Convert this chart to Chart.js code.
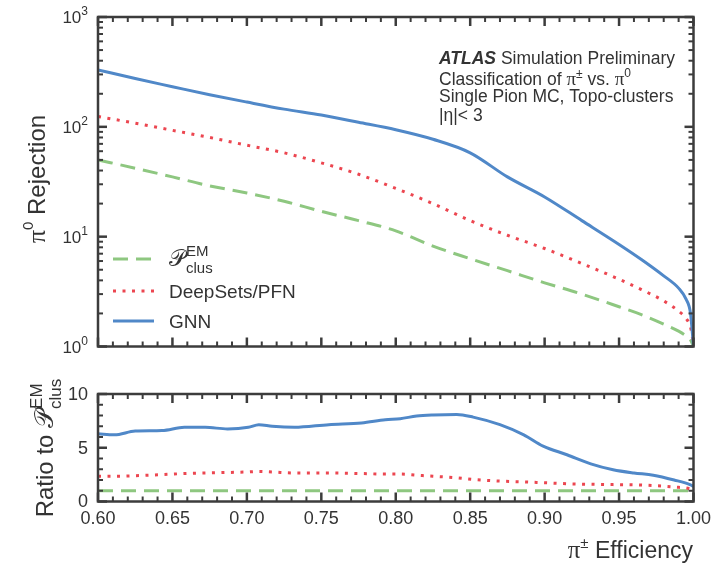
<!DOCTYPE html>
<html>
<head>
<meta charset="utf-8">
<script src="https://cdn.jsdelivr.net/npm/chart.js@4/dist/chart.umd.min.js"></script>
<style>
  body { margin: 0; background: #fff; }
  #wrap { position: relative; width: 726px; height: 565px; }
  #topChart { position: absolute; left: 0; top: 0; }
  #ratioChart { position: absolute; left: 0; top: 370px; }
</style>
</head>
<body>
<div id="wrap">
  <canvas id="topChart" width="726" height="370" style="width:726px;height:370px"></canvas>
  <canvas id="ratioChart" width="726" height="195" style="width:726px;height:195px"></canvas>
</div>
<script>
// pi+- efficiency points for the rejection curves
const effTop = [0.60, 0.625, 0.65, 0.675, 0.70, 0.725, 0.75, 0.775, 0.80, 0.825, 0.85, 0.875, 0.90, 0.925, 0.95, 0.965, 0.98, 0.99, 0.995, 0.998, 1.00];
const clusRej = [50, 42, 35, 29, 25, 21, 17, 14, 11.3, 8.2, 6.3, 4.9, 3.8, 3.0, 2.3, 1.95, 1.6, 1.38, 1.25, 1.15, 1.0];
const deepSetsRej = [124, 108, 93, 80, 68, 58, 47, 37, 27.5, 20, 14, 10.3, 7.8, 5.7, 4.1, 3.3, 2.6, 2.1, 1.8, 1.5, 1.05];
const gnnRej = [330, 275, 232, 196, 168, 145, 128, 110, 94, 77, 58, 35, 23, 14, 8.5, 6.2, 4.4, 3.4, 2.7, 2.0, 1.0];

// ratio panel
const effRatio = [0.600, 0.611, 0.625, 0.643, 0.658, 0.672, 0.687, 0.701, 0.708, 0.717, 0.732, 0.755, 0.777, 0.793, 0.803, 0.814, 0.825, 0.841, 0.852, 0.870, 0.886, 0.899, 0.915, 0.931, 0.946, 0.960, 0.973, 0.987, 0.998, 1.000];
const gnnRatio = [6.3, 6.2, 6.55, 6.6, 6.9, 6.9, 6.75, 6.9, 7.15, 7.0, 6.9, 7.15, 7.3, 7.6, 7.7, 7.95, 8.05, 8.1, 7.85, 7.15, 6.2, 5.15, 4.35, 3.5, 2.95, 2.65, 2.45, 2.0, 1.55, 1.4];
const deepSetsRatio = [2.35, 2.35, 2.4, 2.5, 2.6, 2.65, 2.7, 2.75, 2.8, 2.75, 2.65, 2.65, 2.6, 2.55, 2.55, 2.45, 2.35, 2.2, 2.05, 1.9, 1.82, 1.75, 1.65, 1.6, 1.57, 1.55, 1.48, 1.35, 1.15, 1.0];
const effFlat = [0.60, 1.00];
const clusRatio = [1, 1];

// axis ticks
const xTicks = ['0.60', '0.65', '0.70', '0.75', '0.80', '0.85', '0.90', '0.95', '1.00'];
const rejDecades = [1, 10, 100, 1000];
const rejExponents = ['0', '1', '2', '3'];
const ratioTicks = [0, 5, 10];

const FONT = "'Liberation Sans', Arial, Helvetica, sans-serif";
const SERIF = "'Liberation Serif', 'DejaVu Serif', serif";
const TEXT = '#333';
const FRAME = '#3c3c3c';
const BLUE = '#5088c8';
const RED = '#ec4650';
const GREEN = '#8ec780';

function pts(xs, ys) {
    return xs.map((x, i) => ({ x: x, y: ys[i] }));
}

function partWidth(ctx, p) {
    ctx.font = p.font;
    if (p.sup !== undefined) {
        return Math.max(ctx.measureText(p.sup).width, ctx.measureText(p.sub || '').width);
    }
    return ctx.measureText(p.text).width;
}

// draws text made of pieces (for super/subscripts)
function drawRich(ctx, parts, x, y, align) {
    const total = parts.reduce((s, p) => s + partWidth(ctx, p), 0);
    let cx = align === 'right' ? x - total : align === 'center' ? x - total / 2 : x;
    ctx.textAlign = 'left';
    ctx.textBaseline = 'alphabetic';
    parts.forEach(p => {
        const w = partWidth(ctx, p);
        ctx.font = p.font;
        if (p.sup !== undefined) {
            ctx.fillText(p.sup, cx, y + p.supDy);
            if (p.sub) ctx.fillText(p.sub, cx, y + p.subDy);
        } else {
            ctx.fillText(p.text, cx, y + (p.dy || 0));
        }
        cx += w;
    });
}

function seg(ctx, x1, y1, x2, y2) {
    ctx.beginPath();
    ctx.moveTo(x1, y1);
    ctx.lineTo(x2, y2);
    ctx.stroke();
}

function drawXTicks(ctx, xs, area) {
    for (let i = 60; i <= 100; i++) {
        const px = xs.getPixelForValue(i / 100);
        const len = i % 5 === 0 ? 9 : 5;
        ctx.lineWidth = i % 5 === 0 ? 2.5 : 2;
        seg(ctx, px, area.bottom, px, area.bottom - len);
        seg(ctx, px, area.top, px, area.top + len);
    }
}

function drawFrame(ctx, area) {
    ctx.strokeStyle = FRAME;
    ctx.lineWidth = 2.5;
    ctx.strokeRect(area.left, area.top, area.right - area.left, area.bottom - area.top);
}

function legendLine(ctx, y, color, dash, label) {
    ctx.save();
    ctx.strokeStyle = color;
    ctx.lineWidth = 3;
    ctx.setLineDash(dash);
    seg(ctx, 113, y, 154, y);
    ctx.restore();
    ctx.fillStyle = TEXT;
    drawRich(ctx, label, 169, y + 7, 'left');
}

const topPlugin = {
    id: 'topDecor',
    afterDraw(chart) {
        const ctx = chart.ctx;
        const area = chart.chartArea;
        const xs = chart.scales.x;
        const ys = chart.scales.y;
        ctx.save();
        drawFrame(ctx, area);
        drawXTicks(ctx, xs, area);
        // log ticks
        rejDecades.forEach((d, i) => {
            const py = ys.getPixelForValue(d);
            ctx.lineWidth = 2.5;
            seg(ctx, area.left, py, area.left + 9, py);
            seg(ctx, area.right, py, area.right - 9, py);
            if (i < rejDecades.length - 1) {
                for (let k = 2; k <= 9; k++) {
                    const pm = ys.getPixelForValue(d * k);
                    ctx.lineWidth = 2;
                    seg(ctx, area.left, pm, area.left + 5, pm);
                    seg(ctx, area.right, pm, area.right - 5, pm);
                }
            }
            ctx.fillStyle = TEXT;
            drawRich(ctx, [
                { text: '10', font: '17px ' + FONT },
                { text: rejExponents[i], font: '12px ' + FONT, dy: -8 }
            ], 88, py + 6, 'right');
        });

        // y title
        ctx.fillStyle = TEXT;
        ctx.save();
        ctx.translate(45, 179);
        ctx.rotate(-Math.PI / 2);
        drawRich(ctx, [
            { text: '\u03c0', font: '26px ' + SERIF },
            { text: '0', font: '15px ' + FONT, dy: -12 },
            { text: ' Rejection', font: '24px ' + FONT }
        ], 0, 0, 'center');
        ctx.restore();

        // legend
        legendLine(ctx, 259, GREEN, [15, 8], [
            { text: '\ud835\udcab', font: '23px ' + FONT },
            { sup: 'EM', sub: 'clus', font: '15px ' + FONT, supDy: -10, subDy: 7 }
        ]);
        legendLine(ctx, 291, RED, [3, 6.5], [{ text: 'DeepSets/PFN', font: '19px ' + FONT }]);
        legendLine(ctx, 321, BLUE, [], [{ text: 'GNN', font: '19px ' + FONT }]);

        // ATLAS label
        const f = '17.5px ' + FONT;
        const fs = '12px ' + FONT;
        drawRich(ctx, [
            { text: 'ATLAS', font: 'italic bold 17.5px ' + FONT },
            { text: ' Simulation Preliminary', font: f }
        ], 439, 64, 'left');
        drawRich(ctx, [
            { text: 'Classification of ', font: f },
            { text: '\u03c0', font: '19px ' + SERIF },
            { text: '\u00b1', font: fs, dy: -7 },
            { text: ' vs. ', font: f },
            { text: '\u03c0', font: '19px ' + SERIF },
            { text: '0', font: fs, dy: -8 }
        ], 439, 85, 'left');
        drawRich(ctx, [{ text: 'Single Pion MC, Topo-clusters', font: f }], 439, 102, 'left');
        drawRich(ctx, [{ text: '|\u03b7|< 3', font: f }], 439, 121, 'left');
        ctx.restore();
    }
};

const ratioPlugin = {
    id: 'ratioDecor',
    afterDraw(chart) {
        const ctx = chart.ctx;
        const area = chart.chartArea;
        const xs = chart.scales.x;
        const ys = chart.scales.y;
        ctx.save();
        drawFrame(ctx, area);
        drawXTicks(ctx, xs, area);
        for (let v = 0; v <= 10; v++) {
            const py = ys.getPixelForValue(v);
            const major = v % 5 === 0;
            ctx.lineWidth = major ? 2.5 : 2;
            const len = major ? 9 : 5;
            seg(ctx, area.left, py, area.left + len, py);
            seg(ctx, area.right, py, area.right - len, py);
        }
        ctx.fillStyle = TEXT;
        ctx.font = '18px ' + FONT;
        ctx.textAlign = 'right';
        ctx.textBaseline = 'middle';
        ratioTicks.forEach(v => {
            ctx.fillText(String(v), 88, ys.getPixelForValue(v) + 1);
        });
        ctx.textAlign = 'center';
        xTicks.forEach(t => {
            ctx.fillText(t, xs.getPixelForValue(parseFloat(t)), area.bottom + 18);
        });

        // y title
        ctx.save();
        ctx.translate(53, 78);
        ctx.rotate(-Math.PI / 2);
        drawRich(ctx, [
            { text: 'Ratio to ', font: '24px ' + FONT },
            { text: '\ud835\udcab', font: '26px ' + FONT },
            { sup: 'EM', sub: 'clus', font: '17px ' + FONT, supDy: -11, subDy: 8 }
        ], 0, 0, 'center');
        ctx.restore();

        // x title
        drawRich(ctx, [
            { text: '\u03c0', font: '25px ' + SERIF },
            { text: '\u00b1', font: '15px ' + FONT, dy: -10 },
            { text: ' Efficiency', font: '23px ' + FONT }
        ], 693, 188, 'right');
        ctx.restore();
    }
};

function lineSet(data, color, dash) {
    return {
        data: data,
        borderColor: color,
        borderWidth: 3,
        borderDash: dash,
        borderCapStyle: 'butt',
        pointRadius: 0,
        fill: false,
        cubicInterpolationMode: 'monotone'
    };
}

const baseOptions = {
    responsive: false,
    animation: false,
    events: [],
    plugins: { legend: { display: false }, tooltip: { enabled: false } }
};

new Chart(document.getElementById('topChart').getContext('2d'), {
    type: 'line',
    data: {
        datasets: [
            lineSet(pts(effTop, gnnRej), BLUE, []),
            lineSet(pts(effTop, deepSetsRej), RED, [3, 6.5]),
            lineSet(pts(effTop, clusRej), GREEN, [15, 8])
        ]
    },
    options: Object.assign({}, baseOptions, {
        layout: { padding: { left: 98, right: 32.5, top: 17, bottom: 23.5 } },
        scales: {
            x: { type: 'linear', min: 0.6, max: 1.0, display: false },
            y: { type: 'logarithmic', min: 1, max: 1000, display: false }
        }
    }),
    plugins: [topPlugin]
});

new Chart(document.getElementById('ratioChart').getContext('2d'), {
    type: 'line',
    data: {
        datasets: [
            lineSet(pts(effRatio, gnnRatio), BLUE, []),
            lineSet(pts(effRatio, deepSetsRatio), RED, [3, 6.5]),
            lineSet(pts(effFlat, clusRatio), GREEN, [15, 8])
        ]
    },
    options: Object.assign({}, baseOptions, {
        layout: { padding: { left: 98, right: 32.5, top: 24, bottom: 63.5 } },
        scales: {
            x: { type: 'linear', min: 0.6, max: 1.0, display: false },
            y: { type: 'linear', min: 0, max: 10, display: false }
        }
    }),
    plugins: [ratioPlugin]
});
</script>
</body>
</html>
